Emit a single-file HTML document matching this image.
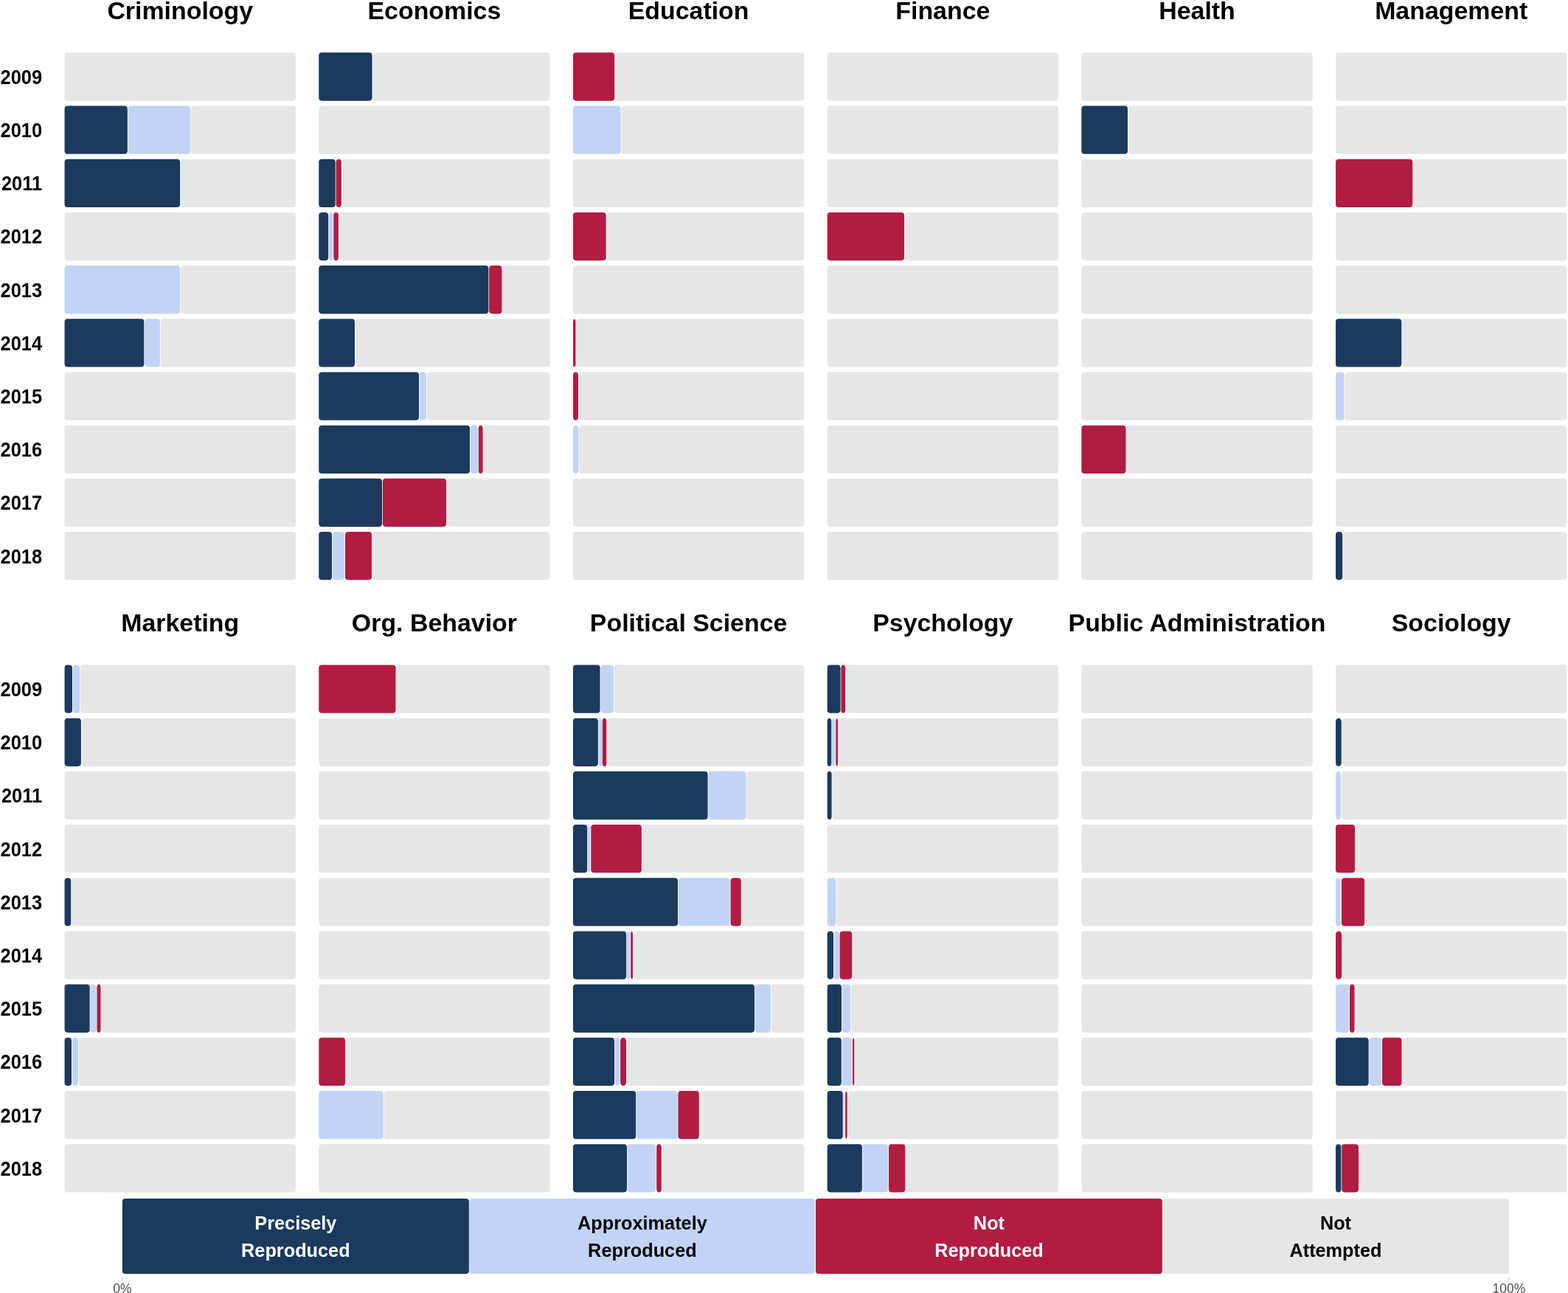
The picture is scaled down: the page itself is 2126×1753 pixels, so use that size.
<!DOCTYPE html>
<html lang="en">
<head>
<meta charset="utf-8">
<title>Reproduction outcomes by discipline and year</title>
<style>
html,body{margin:0;padding:0;background:#fff;}
body{width:2126px;height:1753px;overflow:hidden;}
svg{display:block;}
text{font-family:"Liberation Sans",sans-serif;}
.t{font-size:33.9px;font-weight:700;text-anchor:middle;fill:#000;}
.y{font-size:25.5px;font-weight:700;text-anchor:end;fill:#000;}
.l{font-size:25.3px;font-weight:700;text-anchor:middle;}
.k{font-size:17.5px;text-anchor:middle;fill:#4d4d4d;}
</style>
</head>
<body>
<svg width="2126" height="1753" viewBox="0 0 2126 1753">
<rect x="0" y="0" width="2126" height="1753" fill="#ffffff"/>
<g shape-rendering="geometricPrecision">
<rect x="87.55" y="71.35" width="313.35" height="65.3" rx="4.1" ry="4.1" fill="#e5e6e6"/>
<rect x="87.55" y="143.54" width="85.3" height="65.3" rx="4.1" ry="4.1" fill="#1b3a5d"/>
<rect x="173.65" y="143.54" width="84.6" height="65.3" rx="4.1" ry="4.1" fill="#c2d4f5"/>
<rect x="259.05" y="143.54" width="141.85" height="65.3" rx="4.1" ry="4.1" fill="#e5e6e6"/>
<rect x="87.55" y="215.73" width="156.6" height="65.3" rx="4.1" ry="4.1" fill="#1b3a5d"/>
<rect x="244.95" y="215.73" width="155.95" height="65.3" rx="4.1" ry="4.1" fill="#e5e6e6"/>
<rect x="87.55" y="287.92" width="313.35" height="65.3" rx="4.1" ry="4.1" fill="#e5e6e6"/>
<rect x="87.55" y="360.11" width="156.6" height="65.3" rx="4.1" ry="4.1" fill="#c2d4f5"/>
<rect x="244.95" y="360.11" width="155.95" height="65.3" rx="4.1" ry="4.1" fill="#e5e6e6"/>
<rect x="87.55" y="432.3" width="107.75" height="65.3" rx="4.1" ry="4.1" fill="#1b3a5d"/>
<rect x="196.1" y="432.3" width="20.8" height="65.3" rx="4.1" ry="4.1" fill="#c2d4f5"/>
<rect x="217.7" y="432.3" width="183.2" height="65.3" rx="4.1" ry="4.1" fill="#e5e6e6"/>
<rect x="87.55" y="504.49" width="313.35" height="65.3" rx="4.1" ry="4.1" fill="#e5e6e6"/>
<rect x="87.55" y="576.68" width="313.35" height="65.3" rx="4.1" ry="4.1" fill="#e5e6e6"/>
<rect x="87.55" y="648.87" width="313.35" height="65.3" rx="4.1" ry="4.1" fill="#e5e6e6"/>
<rect x="87.55" y="721.06" width="313.35" height="65.3" rx="4.1" ry="4.1" fill="#e5e6e6"/>
<rect x="87.55" y="901.45" width="10.45" height="65.3" rx="4.1" ry="4.1" fill="#1b3a5d"/>
<rect x="98.8" y="901.45" width="9.4" height="65.3" rx="4.1" ry="4.1" fill="#c2d4f5"/>
<rect x="109" y="901.45" width="291.9" height="65.3" rx="4.1" ry="4.1" fill="#e5e6e6"/>
<rect x="87.55" y="973.64" width="22.35" height="65.3" rx="4.1" ry="4.1" fill="#1b3a5d"/>
<rect x="110.7" y="973.64" width="290.2" height="65.3" rx="4.1" ry="4.1" fill="#e5e6e6"/>
<rect x="87.55" y="1045.83" width="313.35" height="65.3" rx="4.1" ry="4.1" fill="#e5e6e6"/>
<rect x="87.55" y="1118.02" width="313.35" height="65.3" rx="4.1" ry="4.1" fill="#e5e6e6"/>
<rect x="87.55" y="1190.21" width="8.65" height="65.3" rx="4.1" ry="4.1" fill="#1b3a5d"/>
<rect x="97" y="1190.21" width="303.9" height="65.3" rx="4.1" ry="4.1" fill="#e5e6e6"/>
<rect x="87.55" y="1262.4" width="313.35" height="65.3" rx="4.1" ry="4.1" fill="#e5e6e6"/>
<rect x="87.55" y="1334.59" width="34.15" height="65.3" rx="4.1" ry="4.1" fill="#1b3a5d"/>
<rect x="122.5" y="1334.59" width="8.1" height="65.3" rx="4.05" ry="4.5" fill="#c2d4f5"/>
<rect x="131.4" y="1334.59" width="5.1" height="65.3" rx="2.55" ry="4.22" fill="#b21c43"/>
<rect x="137.3" y="1334.59" width="263.6" height="65.3" rx="4.1" ry="4.1" fill="#e5e6e6"/>
<rect x="87.55" y="1406.78" width="9.45" height="65.3" rx="4.1" ry="4.1" fill="#1b3a5d"/>
<rect x="97.8" y="1406.78" width="8.2" height="65.3" rx="4.1" ry="4.5" fill="#c2d4f5"/>
<rect x="106.8" y="1406.78" width="294.1" height="65.3" rx="4.1" ry="4.1" fill="#e5e6e6"/>
<rect x="87.55" y="1478.97" width="313.35" height="65.3" rx="4.1" ry="4.1" fill="#e5e6e6"/>
<rect x="87.55" y="1551.16" width="313.35" height="65.3" rx="4.1" ry="4.1" fill="#e5e6e6"/>
<rect x="432.25" y="71.35" width="72.35" height="65.3" rx="4.1" ry="4.1" fill="#1b3a5d"/>
<rect x="505.4" y="71.35" width="240.2" height="65.3" rx="4.1" ry="4.1" fill="#e5e6e6"/>
<rect x="432.25" y="143.54" width="313.35" height="65.3" rx="4.1" ry="4.1" fill="#e5e6e6"/>
<rect x="432.25" y="215.73" width="22.45" height="65.3" rx="4.1" ry="4.1" fill="#1b3a5d"/>
<rect x="455.5" y="215.73" width="7.4" height="65.3" rx="3.7" ry="4.48" fill="#b21c43"/>
<rect x="463.7" y="215.73" width="281.9" height="65.3" rx="4.1" ry="4.1" fill="#e5e6e6"/>
<rect x="432.25" y="287.92" width="12.95" height="65.3" rx="4.1" ry="4.1" fill="#1b3a5d"/>
<rect x="446" y="287.92" width="5.5" height="65.3" rx="2.75" ry="4.29" fill="#c2d4f5"/>
<rect x="452.3" y="287.92" width="6.6" height="65.3" rx="3.3" ry="4.43" fill="#b21c43"/>
<rect x="459.7" y="287.92" width="285.9" height="65.3" rx="4.1" ry="4.1" fill="#e5e6e6"/>
<rect x="432.25" y="360.11" width="230.15" height="65.3" rx="4.1" ry="4.1" fill="#1b3a5d"/>
<rect x="663.2" y="360.11" width="17.3" height="65.3" rx="4.1" ry="4.1" fill="#b21c43"/>
<rect x="681.3" y="360.11" width="64.3" height="65.3" rx="4.1" ry="4.1" fill="#e5e6e6"/>
<rect x="432.25" y="432.3" width="48.75" height="65.3" rx="4.1" ry="4.1" fill="#1b3a5d"/>
<rect x="481.8" y="432.3" width="263.8" height="65.3" rx="4.1" ry="4.1" fill="#e5e6e6"/>
<rect x="432.25" y="504.49" width="135.75" height="65.3" rx="4.1" ry="4.1" fill="#1b3a5d"/>
<rect x="568.8" y="504.49" width="9.3" height="65.3" rx="4.1" ry="4.1" fill="#c2d4f5"/>
<rect x="578.9" y="504.49" width="166.7" height="65.3" rx="4.1" ry="4.1" fill="#e5e6e6"/>
<rect x="432.25" y="576.68" width="204.85" height="65.3" rx="4.1" ry="4.1" fill="#1b3a5d"/>
<rect x="637.9" y="576.68" width="10.1" height="65.3" rx="4.1" ry="4.1" fill="#c2d4f5"/>
<rect x="648.8" y="576.68" width="5.8" height="65.3" rx="2.9" ry="4.34" fill="#b21c43"/>
<rect x="655.4" y="576.68" width="90.2" height="65.3" rx="4.1" ry="4.1" fill="#e5e6e6"/>
<rect x="432.25" y="648.87" width="85.75" height="65.3" rx="4.1" ry="4.1" fill="#1b3a5d"/>
<rect x="518.8" y="648.87" width="86.3" height="65.3" rx="4.1" ry="4.1" fill="#b21c43"/>
<rect x="605.9" y="648.87" width="139.7" height="65.3" rx="4.1" ry="4.1" fill="#e5e6e6"/>
<rect x="432.25" y="721.06" width="17.75" height="65.3" rx="4.1" ry="4.1" fill="#1b3a5d"/>
<rect x="450.8" y="721.06" width="16.4" height="65.3" rx="4.1" ry="4.1" fill="#c2d4f5"/>
<rect x="468" y="721.06" width="36.1" height="65.3" rx="4.1" ry="4.1" fill="#b21c43"/>
<rect x="504.9" y="721.06" width="240.7" height="65.3" rx="4.1" ry="4.1" fill="#e5e6e6"/>
<rect x="432.25" y="901.45" width="104.25" height="65.3" rx="4.1" ry="4.1" fill="#b21c43"/>
<rect x="537.3" y="901.45" width="208.3" height="65.3" rx="4.1" ry="4.1" fill="#e5e6e6"/>
<rect x="432.25" y="973.64" width="313.35" height="65.3" rx="4.1" ry="4.1" fill="#e5e6e6"/>
<rect x="432.25" y="1045.83" width="313.35" height="65.3" rx="4.1" ry="4.1" fill="#e5e6e6"/>
<rect x="432.25" y="1118.02" width="313.35" height="65.3" rx="4.1" ry="4.1" fill="#e5e6e6"/>
<rect x="432.25" y="1190.21" width="313.35" height="65.3" rx="4.1" ry="4.1" fill="#e5e6e6"/>
<rect x="432.25" y="1262.4" width="313.35" height="65.3" rx="4.1" ry="4.1" fill="#e5e6e6"/>
<rect x="432.25" y="1334.59" width="313.35" height="65.3" rx="4.1" ry="4.1" fill="#e5e6e6"/>
<rect x="432.25" y="1406.78" width="35.85" height="65.3" rx="4.1" ry="4.1" fill="#b21c43"/>
<rect x="468.9" y="1406.78" width="276.7" height="65.3" rx="4.1" ry="4.1" fill="#e5e6e6"/>
<rect x="432.25" y="1478.97" width="87.55" height="65.3" rx="4.1" ry="4.1" fill="#c2d4f5"/>
<rect x="520.6" y="1478.97" width="225" height="65.3" rx="4.1" ry="4.1" fill="#e5e6e6"/>
<rect x="432.25" y="1551.16" width="313.35" height="65.3" rx="4.1" ry="4.1" fill="#e5e6e6"/>
<rect x="776.95" y="71.35" width="56.25" height="65.3" rx="4.1" ry="4.1" fill="#b21c43"/>
<rect x="834" y="71.35" width="256.3" height="65.3" rx="4.1" ry="4.1" fill="#e5e6e6"/>
<rect x="776.95" y="143.54" width="64.75" height="65.3" rx="4.1" ry="4.1" fill="#c2d4f5"/>
<rect x="842.5" y="143.54" width="247.8" height="65.3" rx="4.1" ry="4.1" fill="#e5e6e6"/>
<rect x="776.95" y="215.73" width="313.35" height="65.3" rx="4.1" ry="4.1" fill="#e5e6e6"/>
<rect x="776.95" y="287.92" width="44.75" height="65.3" rx="4.1" ry="4.1" fill="#b21c43"/>
<rect x="822.5" y="287.92" width="267.8" height="65.3" rx="4.1" ry="4.1" fill="#e5e6e6"/>
<rect x="776.95" y="360.11" width="313.35" height="65.3" rx="4.1" ry="4.1" fill="#e5e6e6"/>
<rect x="776.95" y="432.65" width="3.55" height="64.61" rx="1.78" ry="3.85" fill="#b21c43"/>
<rect x="781.3" y="432.3" width="309" height="65.3" rx="4.1" ry="4.1" fill="#e5e6e6"/>
<rect x="776.95" y="504.49" width="7.05" height="65.3" rx="3.53" ry="4.46" fill="#b21c43"/>
<rect x="784.8" y="504.49" width="305.5" height="65.3" rx="4.1" ry="4.1" fill="#e5e6e6"/>
<rect x="776.95" y="576.68" width="7.65" height="65.3" rx="3.83" ry="4.49" fill="#c2d4f5"/>
<rect x="785.4" y="576.68" width="304.9" height="65.3" rx="4.1" ry="4.1" fill="#e5e6e6"/>
<rect x="776.95" y="648.87" width="313.35" height="65.3" rx="4.1" ry="4.1" fill="#e5e6e6"/>
<rect x="776.95" y="721.06" width="313.35" height="65.3" rx="4.1" ry="4.1" fill="#e5e6e6"/>
<rect x="776.95" y="901.45" width="36.65" height="65.3" rx="4.1" ry="4.1" fill="#1b3a5d"/>
<rect x="814.4" y="901.45" width="17.6" height="65.3" rx="4.1" ry="4.1" fill="#c2d4f5"/>
<rect x="832.8" y="901.45" width="257.5" height="65.3" rx="4.1" ry="4.1" fill="#e5e6e6"/>
<rect x="776.95" y="973.64" width="33.95" height="65.3" rx="4.1" ry="4.1" fill="#1b3a5d"/>
<rect x="811.7" y="973.81" width="4.2" height="64.96" rx="2.1" ry="4.03" fill="#c2d4f5"/>
<rect x="816.7" y="973.64" width="5.6" height="65.3" rx="2.8" ry="4.31" fill="#b21c43"/>
<rect x="823.1" y="973.64" width="267.2" height="65.3" rx="4.1" ry="4.1" fill="#e5e6e6"/>
<rect x="776.95" y="1045.83" width="182.65" height="65.3" rx="4.1" ry="4.1" fill="#1b3a5d"/>
<rect x="960.4" y="1045.83" width="51.3" height="65.3" rx="4.1" ry="4.1" fill="#c2d4f5"/>
<rect x="1012.5" y="1045.83" width="77.8" height="65.3" rx="4.1" ry="4.1" fill="#e5e6e6"/>
<rect x="776.95" y="1118.02" width="19.25" height="65.3" rx="4.1" ry="4.1" fill="#1b3a5d"/>
<rect x="797" y="1118.38" width="3.5" height="64.58" rx="1.75" ry="3.84" fill="#c2d4f5"/>
<rect x="801.3" y="1118.02" width="68.6" height="65.3" rx="4.1" ry="4.1" fill="#b21c43"/>
<rect x="870.7" y="1118.02" width="219.6" height="65.3" rx="4.1" ry="4.1" fill="#e5e6e6"/>
<rect x="776.95" y="1190.21" width="142.15" height="65.3" rx="4.1" ry="4.1" fill="#1b3a5d"/>
<rect x="919.9" y="1190.21" width="69.9" height="65.3" rx="4.1" ry="4.1" fill="#c2d4f5"/>
<rect x="990.6" y="1190.21" width="14.2" height="65.3" rx="4.1" ry="4.1" fill="#b21c43"/>
<rect x="1005.6" y="1190.21" width="84.7" height="65.3" rx="4.1" ry="4.1" fill="#e5e6e6"/>
<rect x="776.95" y="1262.4" width="72.25" height="65.3" rx="4.1" ry="4.1" fill="#1b3a5d"/>
<rect x="850" y="1262.52" width="4.4" height="65.06" rx="2.2" ry="4.08" fill="#c2d4f5"/>
<rect x="855.2" y="1262.96" width="2.9" height="64.17" rx="1.45" ry="3.64" fill="#b21c43"/>
<rect x="858.9" y="1262.4" width="231.4" height="65.3" rx="4.1" ry="4.1" fill="#e5e6e6"/>
<rect x="776.95" y="1334.59" width="246.05" height="65.3" rx="4.1" ry="4.1" fill="#1b3a5d"/>
<rect x="1023.8" y="1334.59" width="21.2" height="65.3" rx="4.1" ry="4.1" fill="#c2d4f5"/>
<rect x="1045.8" y="1334.59" width="44.5" height="65.3" rx="4.1" ry="4.1" fill="#e5e6e6"/>
<rect x="776.95" y="1406.78" width="56.05" height="65.3" rx="4.1" ry="4.1" fill="#1b3a5d"/>
<rect x="833.8" y="1406.78" width="6.5" height="65.3" rx="3.25" ry="4.42" fill="#c2d4f5"/>
<rect x="841.1" y="1406.78" width="7.9" height="65.3" rx="3.95" ry="4.5" fill="#b21c43"/>
<rect x="849.8" y="1406.78" width="240.5" height="65.3" rx="4.1" ry="4.1" fill="#e5e6e6"/>
<rect x="776.95" y="1478.97" width="85.25" height="65.3" rx="4.1" ry="4.1" fill="#1b3a5d"/>
<rect x="863" y="1478.97" width="55.6" height="65.3" rx="4.1" ry="4.1" fill="#c2d4f5"/>
<rect x="919.4" y="1478.97" width="28.4" height="65.3" rx="4.1" ry="4.1" fill="#b21c43"/>
<rect x="948.6" y="1478.97" width="141.7" height="65.3" rx="4.1" ry="4.1" fill="#e5e6e6"/>
<rect x="776.95" y="1551.16" width="73.05" height="65.3" rx="4.1" ry="4.1" fill="#1b3a5d"/>
<rect x="850.8" y="1551.16" width="38.6" height="65.3" rx="4.1" ry="4.1" fill="#c2d4f5"/>
<rect x="890.2" y="1551.16" width="6.6" height="65.3" rx="3.3" ry="4.43" fill="#b21c43"/>
<rect x="897.6" y="1551.16" width="192.7" height="65.3" rx="4.1" ry="4.1" fill="#e5e6e6"/>
<rect x="1121.65" y="71.35" width="313.35" height="65.3" rx="4.1" ry="4.1" fill="#e5e6e6"/>
<rect x="1121.65" y="143.54" width="313.35" height="65.3" rx="4.1" ry="4.1" fill="#e5e6e6"/>
<rect x="1121.65" y="215.73" width="313.35" height="65.3" rx="4.1" ry="4.1" fill="#e5e6e6"/>
<rect x="1121.65" y="287.92" width="104.45" height="65.3" rx="4.1" ry="4.1" fill="#b21c43"/>
<rect x="1226.9" y="287.92" width="208.1" height="65.3" rx="4.1" ry="4.1" fill="#e5e6e6"/>
<rect x="1121.65" y="360.11" width="313.35" height="65.3" rx="4.1" ry="4.1" fill="#e5e6e6"/>
<rect x="1121.65" y="432.3" width="313.35" height="65.3" rx="4.1" ry="4.1" fill="#e5e6e6"/>
<rect x="1121.65" y="504.49" width="313.35" height="65.3" rx="4.1" ry="4.1" fill="#e5e6e6"/>
<rect x="1121.65" y="576.68" width="313.35" height="65.3" rx="4.1" ry="4.1" fill="#e5e6e6"/>
<rect x="1121.65" y="648.87" width="313.35" height="65.3" rx="4.1" ry="4.1" fill="#e5e6e6"/>
<rect x="1121.65" y="721.06" width="313.35" height="65.3" rx="4.1" ry="4.1" fill="#e5e6e6"/>
<rect x="1121.65" y="901.45" width="17.95" height="65.3" rx="4.1" ry="4.1" fill="#1b3a5d"/>
<rect x="1140.4" y="901.45" width="5.8" height="65.3" rx="2.9" ry="4.34" fill="#b21c43"/>
<rect x="1147" y="901.45" width="288" height="65.3" rx="4.1" ry="4.1" fill="#e5e6e6"/>
<rect x="1121.65" y="973.64" width="5.65" height="65.3" rx="2.83" ry="4.32" fill="#1b3a5d"/>
<rect x="1128.1" y="973.76" width="4.4" height="65.06" rx="2.2" ry="4.08" fill="#c2d4f5"/>
<rect x="1133.3" y="974.24" width="2.8" height="64.1" rx="1.4" ry="3.6" fill="#b21c43"/>
<rect x="1136.9" y="973.64" width="298.1" height="65.3" rx="4.1" ry="4.1" fill="#e5e6e6"/>
<rect x="1121.65" y="1045.83" width="5.95" height="65.3" rx="2.98" ry="4.36" fill="#1b3a5d"/>
<rect x="1128.4" y="1045.83" width="306.6" height="65.3" rx="4.1" ry="4.1" fill="#e5e6e6"/>
<rect x="1121.65" y="1118.02" width="313.35" height="65.3" rx="4.1" ry="4.1" fill="#e5e6e6"/>
<rect x="1121.65" y="1190.21" width="11.95" height="65.3" rx="4.1" ry="4.1" fill="#c2d4f5"/>
<rect x="1134.4" y="1190.21" width="300.6" height="65.3" rx="4.1" ry="4.1" fill="#e5e6e6"/>
<rect x="1121.65" y="1262.4" width="8.35" height="65.3" rx="4.1" ry="4.1" fill="#1b3a5d"/>
<rect x="1130.8" y="1262.4" width="7" height="65.3" rx="3.5" ry="4.46" fill="#c2d4f5"/>
<rect x="1138.6" y="1262.4" width="16.7" height="65.3" rx="4.1" ry="4.1" fill="#b21c43"/>
<rect x="1156.1" y="1262.4" width="278.9" height="65.3" rx="4.1" ry="4.1" fill="#e5e6e6"/>
<rect x="1121.65" y="1334.59" width="19.35" height="65.3" rx="4.1" ry="4.1" fill="#1b3a5d"/>
<rect x="1141.8" y="1334.59" width="11.3" height="65.3" rx="4.1" ry="4.1" fill="#c2d4f5"/>
<rect x="1153.9" y="1334.59" width="281.1" height="65.3" rx="4.1" ry="4.1" fill="#e5e6e6"/>
<rect x="1121.65" y="1406.78" width="19.15" height="65.3" rx="4.1" ry="4.1" fill="#1b3a5d"/>
<rect x="1141.6" y="1406.78" width="13.6" height="65.3" rx="4.1" ry="4.1" fill="#c2d4f5"/>
<rect x="1156" y="1407.58" width="2.3" height="63.7" rx="1.15" ry="3.4" fill="#b21c43"/>
<rect x="1159.1" y="1406.78" width="275.9" height="65.3" rx="4.1" ry="4.1" fill="#e5e6e6"/>
<rect x="1121.65" y="1478.97" width="21.05" height="65.3" rx="4.1" ry="4.1" fill="#1b3a5d"/>
<rect x="1143.5" y="1480.01" width="1.8" height="63.23" rx="0.9" ry="3.16" fill="#c2d4f5"/>
<rect x="1146.1" y="1479.65" width="2.6" height="63.95" rx="1.3" ry="3.52" fill="#b21c43"/>
<rect x="1149.5" y="1478.97" width="285.5" height="65.3" rx="4.1" ry="4.1" fill="#e5e6e6"/>
<rect x="1121.65" y="1551.16" width="47.25" height="65.3" rx="4.1" ry="4.1" fill="#1b3a5d"/>
<rect x="1169.7" y="1551.16" width="34.5" height="65.3" rx="4.1" ry="4.1" fill="#c2d4f5"/>
<rect x="1205" y="1551.16" width="22.4" height="65.3" rx="4.1" ry="4.1" fill="#b21c43"/>
<rect x="1228.2" y="1551.16" width="206.8" height="65.3" rx="4.1" ry="4.1" fill="#e5e6e6"/>
<rect x="1466.35" y="71.35" width="313.35" height="65.3" rx="4.1" ry="4.1" fill="#e5e6e6"/>
<rect x="1466.35" y="143.54" width="62.65" height="65.3" rx="4.1" ry="4.1" fill="#1b3a5d"/>
<rect x="1529.8" y="143.54" width="249.9" height="65.3" rx="4.1" ry="4.1" fill="#e5e6e6"/>
<rect x="1466.35" y="215.73" width="313.35" height="65.3" rx="4.1" ry="4.1" fill="#e5e6e6"/>
<rect x="1466.35" y="287.92" width="313.35" height="65.3" rx="4.1" ry="4.1" fill="#e5e6e6"/>
<rect x="1466.35" y="360.11" width="313.35" height="65.3" rx="4.1" ry="4.1" fill="#e5e6e6"/>
<rect x="1466.35" y="432.3" width="313.35" height="65.3" rx="4.1" ry="4.1" fill="#e5e6e6"/>
<rect x="1466.35" y="504.49" width="313.35" height="65.3" rx="4.1" ry="4.1" fill="#e5e6e6"/>
<rect x="1466.35" y="576.68" width="60.15" height="65.3" rx="4.1" ry="4.1" fill="#b21c43"/>
<rect x="1527.3" y="576.68" width="252.4" height="65.3" rx="4.1" ry="4.1" fill="#e5e6e6"/>
<rect x="1466.35" y="648.87" width="313.35" height="65.3" rx="4.1" ry="4.1" fill="#e5e6e6"/>
<rect x="1466.35" y="721.06" width="313.35" height="65.3" rx="4.1" ry="4.1" fill="#e5e6e6"/>
<rect x="1466.35" y="901.45" width="313.35" height="65.3" rx="4.1" ry="4.1" fill="#e5e6e6"/>
<rect x="1466.35" y="973.64" width="313.35" height="65.3" rx="4.1" ry="4.1" fill="#e5e6e6"/>
<rect x="1466.35" y="1045.83" width="313.35" height="65.3" rx="4.1" ry="4.1" fill="#e5e6e6"/>
<rect x="1466.35" y="1118.02" width="313.35" height="65.3" rx="4.1" ry="4.1" fill="#e5e6e6"/>
<rect x="1466.35" y="1190.21" width="313.35" height="65.3" rx="4.1" ry="4.1" fill="#e5e6e6"/>
<rect x="1466.35" y="1262.4" width="313.35" height="65.3" rx="4.1" ry="4.1" fill="#e5e6e6"/>
<rect x="1466.35" y="1334.59" width="313.35" height="65.3" rx="4.1" ry="4.1" fill="#e5e6e6"/>
<rect x="1466.35" y="1406.78" width="313.35" height="65.3" rx="4.1" ry="4.1" fill="#e5e6e6"/>
<rect x="1466.35" y="1478.97" width="313.35" height="65.3" rx="4.1" ry="4.1" fill="#e5e6e6"/>
<rect x="1466.35" y="1551.16" width="313.35" height="65.3" rx="4.1" ry="4.1" fill="#e5e6e6"/>
<rect x="1811.05" y="71.35" width="313.35" height="65.3" rx="4.1" ry="4.1" fill="#e5e6e6"/>
<rect x="1811.05" y="143.54" width="313.35" height="65.3" rx="4.1" ry="4.1" fill="#e5e6e6"/>
<rect x="1811.05" y="215.73" width="104.25" height="65.3" rx="4.1" ry="4.1" fill="#b21c43"/>
<rect x="1916.1" y="215.73" width="208.3" height="65.3" rx="4.1" ry="4.1" fill="#e5e6e6"/>
<rect x="1811.05" y="287.92" width="313.35" height="65.3" rx="4.1" ry="4.1" fill="#e5e6e6"/>
<rect x="1811.05" y="360.11" width="313.35" height="65.3" rx="4.1" ry="4.1" fill="#e5e6e6"/>
<rect x="1811.05" y="432.3" width="89.25" height="65.3" rx="4.1" ry="4.1" fill="#1b3a5d"/>
<rect x="1901.1" y="432.3" width="223.3" height="65.3" rx="4.1" ry="4.1" fill="#e5e6e6"/>
<rect x="1811.05" y="504.49" width="11.35" height="65.3" rx="4.1" ry="4.1" fill="#c2d4f5"/>
<rect x="1823.2" y="504.49" width="301.2" height="65.3" rx="4.1" ry="4.1" fill="#e5e6e6"/>
<rect x="1811.05" y="576.68" width="313.35" height="65.3" rx="4.1" ry="4.1" fill="#e5e6e6"/>
<rect x="1811.05" y="648.87" width="313.35" height="65.3" rx="4.1" ry="4.1" fill="#e5e6e6"/>
<rect x="1811.05" y="721.06" width="9.15" height="65.3" rx="4.1" ry="4.1" fill="#1b3a5d"/>
<rect x="1821" y="721.06" width="303.4" height="65.3" rx="4.1" ry="4.1" fill="#e5e6e6"/>
<rect x="1811.05" y="901.45" width="313.35" height="65.3" rx="4.1" ry="4.1" fill="#e5e6e6"/>
<rect x="1811.05" y="973.64" width="7.75" height="65.3" rx="3.88" ry="4.49" fill="#1b3a5d"/>
<rect x="1819.6" y="973.64" width="304.8" height="65.3" rx="4.1" ry="4.1" fill="#e5e6e6"/>
<rect x="1811.05" y="1045.83" width="7.05" height="65.3" rx="3.52" ry="4.46" fill="#c2d4f5"/>
<rect x="1818.9" y="1045.83" width="305.5" height="65.3" rx="4.1" ry="4.1" fill="#e5e6e6"/>
<rect x="1811.05" y="1118.02" width="26.05" height="65.3" rx="4.1" ry="4.1" fill="#b21c43"/>
<rect x="1837.9" y="1118.02" width="286.5" height="65.3" rx="4.1" ry="4.1" fill="#e5e6e6"/>
<rect x="1811.05" y="1190.21" width="7.15" height="65.3" rx="3.57" ry="4.47" fill="#c2d4f5"/>
<rect x="1819" y="1190.21" width="31.1" height="65.3" rx="4.1" ry="4.1" fill="#b21c43"/>
<rect x="1850.9" y="1190.21" width="273.5" height="65.3" rx="4.1" ry="4.1" fill="#e5e6e6"/>
<rect x="1811.05" y="1262.4" width="8.15" height="65.3" rx="4.07" ry="4.5" fill="#b21c43"/>
<rect x="1820" y="1262.4" width="304.4" height="65.3" rx="4.1" ry="4.1" fill="#e5e6e6"/>
<rect x="1811.05" y="1334.59" width="18.15" height="65.3" rx="4.1" ry="4.1" fill="#c2d4f5"/>
<rect x="1830" y="1334.59" width="6.6" height="65.3" rx="3.3" ry="4.43" fill="#b21c43"/>
<rect x="1837.4" y="1334.59" width="287" height="65.3" rx="4.1" ry="4.1" fill="#e5e6e6"/>
<rect x="1811.05" y="1406.78" width="44.65" height="65.3" rx="4.1" ry="4.1" fill="#1b3a5d"/>
<rect x="1856.5" y="1406.78" width="16.7" height="65.3" rx="4.1" ry="4.1" fill="#c2d4f5"/>
<rect x="1874" y="1406.78" width="26.5" height="65.3" rx="4.1" ry="4.1" fill="#b21c43"/>
<rect x="1901.3" y="1406.78" width="223.1" height="65.3" rx="4.1" ry="4.1" fill="#e5e6e6"/>
<rect x="1811.05" y="1478.97" width="313.35" height="65.3" rx="4.1" ry="4.1" fill="#e5e6e6"/>
<rect x="1811.05" y="1551.16" width="7.35" height="65.3" rx="3.67" ry="4.48" fill="#1b3a5d"/>
<rect x="1819.2" y="1551.16" width="22.9" height="65.3" rx="4.1" ry="4.1" fill="#b21c43"/>
<rect x="1842.9" y="1551.16" width="281.5" height="65.3" rx="4.1" ry="4.1" fill="#e5e6e6"/>
<rect x="165.85" y="1624.9" width="470" height="102.2" rx="4.1" ry="4.1" fill="#1b3a5d"/>
<rect x="636.2" y="1624.9" width="468.65" height="102.2" rx="4.1" ry="4.1" fill="#c2d4f5"/>
<rect x="1105.95" y="1624.9" width="469.92" height="102.2" rx="4.1" ry="4.1" fill="#b21c43"/>
<rect x="1576.6" y="1624.9" width="469.4" height="102.2" rx="4.1" ry="4.1" fill="#e5e6e6"/>
<rect x="165.3" y="1732.2" width="1.1" height="3.9" fill="#c4c4c4"/>
<rect x="2045.45" y="1732.2" width="1.1" height="3.9" fill="#c4c4c4"/>
</g>
<g>
<text class="t" x="244.23" y="26.1">Criminology</text>
<text class="t" x="244.23" y="856.2">Marketing</text>
<text class="t" x="588.92" y="26.1">Economics</text>
<text class="t" x="588.92" y="856.2">Org. Behavior</text>
<text class="t" x="933.62" y="26.1">Education</text>
<text class="t" x="933.62" y="856.2">Political Science</text>
<text class="t" x="1278.32" y="26.1">Finance</text>
<text class="t" x="1278.32" y="856.2">Psychology</text>
<text class="t" x="1623.02" y="26.1">Health</text>
<text class="t" x="1623.02" y="856.2">Public Administration</text>
<text class="t" x="1967.72" y="26.1">Management</text>
<text class="t" x="1967.72" y="856.2">Sociology</text>
<text class="y" transform="translate(57.2 113.9) scale(1 1.08)">2009</text>
<text class="y" transform="translate(57.2 186.09) scale(1 1.08)">2010</text>
<text class="y" transform="translate(57.2 258.28) scale(1 1.08)">2011</text>
<text class="y" transform="translate(57.2 330.47) scale(1 1.08)">2012</text>
<text class="y" transform="translate(57.2 402.66) scale(1 1.08)">2013</text>
<text class="y" transform="translate(57.2 474.85) scale(1 1.08)">2014</text>
<text class="y" transform="translate(57.2 547.04) scale(1 1.08)">2015</text>
<text class="y" transform="translate(57.2 619.23) scale(1 1.08)">2016</text>
<text class="y" transform="translate(57.2 691.42) scale(1 1.08)">2017</text>
<text class="y" transform="translate(57.2 763.61) scale(1 1.08)">2018</text>
<text class="y" transform="translate(57.2 944) scale(1 1.08)">2009</text>
<text class="y" transform="translate(57.2 1016.19) scale(1 1.08)">2010</text>
<text class="y" transform="translate(57.2 1088.38) scale(1 1.08)">2011</text>
<text class="y" transform="translate(57.2 1160.57) scale(1 1.08)">2012</text>
<text class="y" transform="translate(57.2 1232.76) scale(1 1.08)">2013</text>
<text class="y" transform="translate(57.2 1304.95) scale(1 1.08)">2014</text>
<text class="y" transform="translate(57.2 1377.14) scale(1 1.08)">2015</text>
<text class="y" transform="translate(57.2 1449.33) scale(1 1.08)">2016</text>
<text class="y" transform="translate(57.2 1521.52) scale(1 1.08)">2017</text>
<text class="y" transform="translate(57.2 1593.71) scale(1 1.08)">2018</text>
<text class="l" x="400.87" y="1667.3" fill="#fff">Precisely</text>
<text class="l" x="400.87" y="1703.9" fill="#fff">Reproduced</text>
<text class="l" x="870.91" y="1667.3" fill="#000">Approximately</text>
<text class="l" x="870.91" y="1703.9" fill="#000">Reproduced</text>
<text class="l" x="1340.94" y="1667.3" fill="#fff">Not</text>
<text class="l" x="1340.94" y="1703.9" fill="#fff">Reproduced</text>
<text class="l" x="1810.98" y="1667.3" fill="#000">Not</text>
<text class="l" x="1810.98" y="1703.9" fill="#000">Attempted</text>
<text class="k" x="165.85" y="1752.7">0%</text>
<text class="k" x="2046" y="1752.7">100%</text>
</g>
</svg>
</body>
</html>
